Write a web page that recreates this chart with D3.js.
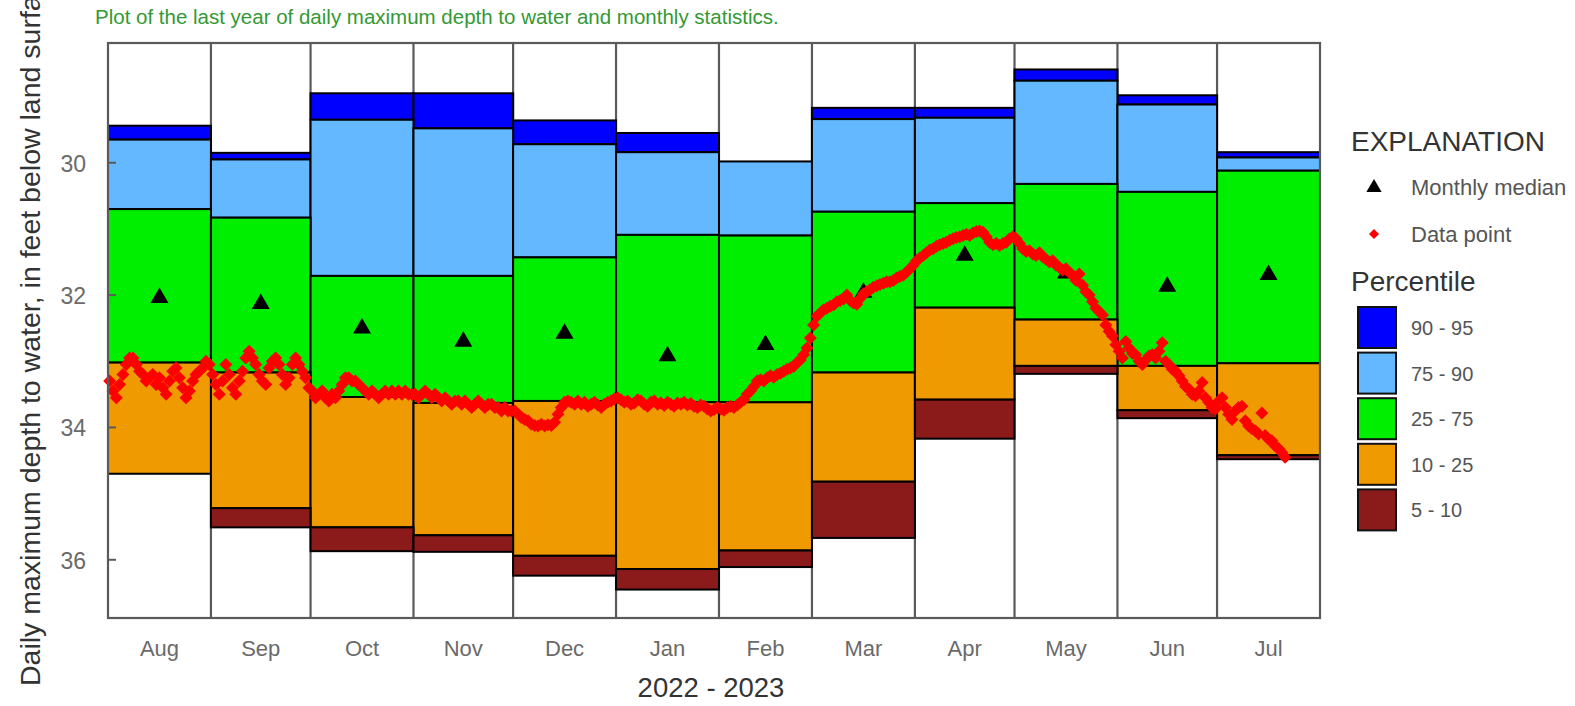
<!DOCTYPE html>
<html>
<head>
<meta charset="utf-8">
<script src="https://cdn.jsdelivr.net/npm/d3@7"></script>
<style>
  html, body { margin: 0; padding: 0; background: #fff; }
  svg { display: block; font-family: "Liberation Sans", Arial, sans-serif; }
</style>
</head>
<body>
<svg id="chart" width="1575" height="706"></svg>
<script>
// Month labels of the water year shown
const months = ["Aug", "Sep", "Oct", "Nov", "Dec", "Jan", "Feb", "Mar", "Apr", "May", "Jun", "Jul"];
const monthStarts = ["2022-08-01", "2022-09-01", "2022-10-01", "2022-11-01", "2022-12-01", "2023-01-01",
                     "2023-02-01", "2023-03-01", "2023-04-01", "2023-05-01", "2023-06-01", "2023-07-01", "2023-08-01"];

// Monthly percentiles of depth to water (feet below land surface)
const p95 = [29.44, 29.85, 28.95, 28.95, 29.36, 29.55, 29.98, 29.17, 29.17, 28.59, 28.98, 29.84];
const p90 = [29.65, 29.95, 29.35, 29.48, 29.72, 29.84, 29.98, 29.34, 29.32, 28.76, 29.12, 29.92];
const p75 = [30.70, 30.83, 31.71, 31.71, 31.43, 31.09, 31.10, 30.74, 30.61, 30.32, 30.44, 30.12];
const p25 = [33.02, 33.17, 33.54, 33.63, 33.60, 33.62, 33.62, 33.17, 32.19, 32.37, 33.07, 33.03];
const p10 = [34.70, 35.22, 35.51, 35.63, 35.94, 36.14, 35.86, 34.82, 33.58, 33.07, 33.74, 34.42];
const p05 = [34.70, 35.51, 35.87, 35.88, 36.24, 36.45, 36.11, 35.67, 34.17, 33.19, 33.86, 34.48];
const monthlyMedian = [32.03, 32.12, 32.49, 32.69, 32.57, 32.91, 32.74, 31.95, 31.39, 31.66, 31.86, 31.68];

// Daily maximum depth to water, one value per day from the first of each month
const depthAug = [33.30, 33.45, 33.55, 33.35, 33.20, 33.05, 32.95, 32.95, 33.05, 33.15, 33.20, 33.30, 33.25, 33.20, 33.35, 33.25,
                  33.40, 33.50, 33.30, 33.15, 33.10, 33.25, 33.40, 33.55, 33.45, 33.30, 33.20, 33.15, 33.10, 33.00, 33.05];
const depthSep = [33.20, 33.35, 33.50, 33.30, 33.05, 33.20, 33.40, 33.50, 33.30, 33.15, 32.95, 32.85, 32.95, 33.05, 33.20,
                  33.30, 33.35, 33.10, 33.00, 32.95, 33.05, 33.20, 33.35, 33.25, 33.05, 32.95, 33.05, 33.15, 33.25, 33.40];
const depthOct = [33.45, 33.55, 33.50, 33.45, 33.55, 33.60, 33.50, 33.55, 33.45, 33.35, 33.25, 33.25, 33.30, 33.30, 33.35, 33.40,
                  33.45, 33.50, 33.45, 33.50, 33.55, 33.50, 33.45, 33.50, 33.45, 33.50, 33.45, 33.50, 33.45, 33.50, 33.50];
const depthNov = [33.50, 33.55, 33.50, 33.45, 33.50, 33.55, 33.50, 33.55, 33.60, 33.55, 33.60, 33.65, 33.60, 33.60, 33.65,
                  33.60, 33.65, 33.70, 33.65, 33.60, 33.65, 33.70, 33.65, 33.65, 33.70, 33.70, 33.75, 33.70, 33.75, 33.75];
const depthDec = [33.75, 33.80, 33.85, 33.88, 33.90, 33.95, 33.97, 33.98, 33.95, 33.98, 33.96, 33.97, 33.92, 33.80, 33.70, 33.62,
                  33.60, 33.62, 33.65, 33.60, 33.65, 33.62, 33.68, 33.65, 33.62, 33.66, 33.70, 33.65, 33.62, 33.60, 33.57];
const depthJan = [33.55, 33.58, 33.62, 33.60, 33.65, 33.63, 33.58, 33.60, 33.65, 33.68, 33.62, 33.60, 33.65, 33.63, 33.67, 33.62,
                  33.65, 33.68, 33.63, 33.65, 33.62, 33.66, 33.64, 33.68, 33.70, 33.66, 33.68, 33.72, 33.75, 33.73, 33.70];
const depthFeb = [33.72, 33.74, 33.70, 33.68, 33.70, 33.66, 33.62, 33.58, 33.50, 33.45, 33.38, 33.30, 33.28, 33.30,
                  33.25, 33.22, 33.24, 33.20, 33.18, 33.15, 33.12, 33.10, 33.08, 33.02, 32.98, 32.90, 32.80, 32.65];
const depthMar = [32.45, 32.32, 32.27, 32.22, 32.20, 32.17, 32.15, 32.10, 32.08, 32.06, 32.00, 32.08, 32.12, 32.14, 32.05, 31.98,
                  31.95, 31.92, 31.88, 31.86, 31.84, 31.82, 31.80, 31.80, 31.78, 31.74, 31.72, 31.70, 31.65, 31.60, 31.55];
const depthApr = [31.48, 31.44, 31.40, 31.36, 31.32, 31.30, 31.26, 31.24, 31.22, 31.20, 31.17, 31.15, 31.13, 31.12, 31.10,
                  31.08, 31.10, 31.06, 31.04, 31.03, 31.05, 31.12, 31.20, 31.24, 31.22, 31.25, 31.22, 31.20, 31.15, 31.12];
const depthMay = [31.15, 31.22, 31.30, 31.34, 31.33, 31.38, 31.40, 31.36, 31.42, 31.46, 31.50, 31.48, 31.55, 31.58, 31.62, 31.60,
                  31.66, 31.70, 31.78, 31.68, 31.85, 31.95, 32.00, 32.10, 32.20, 32.25, 32.30, 32.45, 32.55, 32.62, 32.75];
const depthJun = [32.85, 32.95, 32.70, 32.80, 32.88, 32.90, 33.00, 33.05, 32.98, 32.92, 32.90, 32.95, 32.85, 32.72, 33.00,
                  33.05, 33.12, 33.15, 33.22, 33.30, 33.38, 33.42, 33.50, 33.52, 33.45, 33.32, 33.55, 33.62, 33.70, 33.72];
const depthJul = [33.60, 33.55, 33.70, 33.80, 33.88, 33.75, 33.70, 33.68, 33.90, 33.98, 34.02, 34.05, 34.10, 33.78, 34.12,
                  34.18, 34.20, 34.28, 34.32, 34.38, 34.45];

const yTicks = [30, 32, 34, 36];
const legendClasses = ["90 - 95", "75 - 90", "25 - 75", "10 - 25", "5 - 10"];

// ---- layout ----
const svg = d3.select("#chart");
const plot = { left: 108, right: 1320, top: 43, bottom: 618 };
const colors = { b95: "#0000ff", b90: "#63b8ff", b75: "#00ee00", b25: "#ee9a00", b10: "#8b1a1a" };
const axisGray = "#5a5a5a";

const parse = d3.utcParse("%Y-%m-%d");
const starts = monthStarts.map(parse);

const x = d3.scaleUtc().domain([starts[0], starts[12]]).range([plot.left, plot.right]);
const y = d3.scaleLinear().domain([28.19, 36.88]).range([plot.top, plot.bottom]);

// Daily records with dates
const monthly = [depthAug, depthSep, depthOct, depthNov, depthDec, depthJan, depthFeb, depthMar, depthApr, depthMay, depthJun, depthJul];
const daily = [];
monthly.forEach((vals, m) => {
  vals.forEach((v, i) => {
    daily.push({ date: d3.utcHour.offset(d3.utcDay.offset(starts[m], i), 12), value: v });
  });
});

// Month records
const monthRows = months.map((name, i) => ({
  name, start: starts[i], end: starts[i + 1],
  p95: p95[i], p90: p90[i], p75: p75[i], p25: p25[i], p10: p10[i], p05: p05[i], median: monthlyMedian[i]
}));

// ---- title ----
svg.append("text")
  .attr("x", 95).attr("y", 24)
  .attr("font-size", 20.5).attr("fill", "#339933")
  .text("Plot of the last year of daily maximum depth to water and monthly statistics.");

// ---- plot background and month dividers ----
const g = svg.append("g");
g.append("rect")
  .attr("x", plot.left).attr("y", plot.top)
  .attr("width", plot.right - plot.left).attr("height", plot.bottom - plot.top)
  .attr("fill", "#fff");

g.selectAll("line.divider")
  .data(starts.slice(1, 12))
  .join("line")
  .attr("class", "divider")
  .attr("x1", d => x(d)).attr("x2", d => x(d))
  .attr("y1", plot.top).attr("y2", plot.bottom)
  .attr("stroke", axisGray).attr("stroke-width", 2.2);

// ---- percentile bands ----
const bands = [
  { lo: "p90", hi: "p95", color: colors.b95 },
  { lo: "p75", hi: "p90", color: colors.b90 },
  { lo: "p25", hi: "p75", color: colors.b75 },
  { lo: "p10", hi: "p25", color: colors.b25 },
  { lo: "p05", hi: "p10", color: colors.b10 }
];
bands.forEach(b => {
  g.selectAll(null)
    .data(monthRows)
    .join("rect")
    .attr("x", d => x(d.start))
    .attr("width", d => x(d.end) - x(d.start))
    .attr("y", d => y(Math.min(d[b.lo], d[b.hi])))
    .attr("height", d => Math.abs(y(d[b.hi]) - y(d[b.lo])))
    .attr("fill", b.color)
    .attr("stroke", "#000").attr("stroke-width", 2);
});

// ---- y axis ----
const yAxis = d3.axisLeft(y).tickValues(yTicks).tickSize(0).tickPadding(0);
const ya = svg.append("g").attr("transform", `translate(${plot.left},0)`).call(yAxis);
ya.select(".domain").remove();
ya.selectAll("text")
  .attr("x", -22).attr("dy", "0.36em")
  .attr("font-size", 23).attr("fill", "#6a6a6a")
  .attr("font-family", "Liberation Sans, Arial, sans-serif");
svg.selectAll("line.ytick")
  .data(yTicks)
  .join("line")
  .attr("class", "ytick")
  .attr("x1", plot.left).attr("x2", plot.left + 8)
  .attr("y1", d => y(d)).attr("y2", d => y(d))
  .attr("stroke", axisGray).attr("stroke-width", 2);

// ---- medians ----
const tri = "M0,-9.5 L9,6 L-9,6 Z";
svg.selectAll("path.median")
  .data(monthRows)
  .join("path")
  .attr("class", "median")
  .attr("d", tri)
  .attr("transform", d => `translate(${x(new Date((+d.start + +d.end) / 2))},${y(d.median)})`)
  .attr("fill", "#000");

// ---- daily points ----
const diamond = "M0,-6.5 L6.5,0 L0,6.5 L-6.5,0 Z";
svg.selectAll("path.pt")
  .data(daily)
  .join("path")
  .attr("class", "pt")
  .attr("d", diamond)
  .attr("transform", d => `translate(${x(d.date)},${y(d.value)})`)
  .attr("fill", "#ff0000");

// ---- frame ----
svg.append("rect")
  .attr("x", plot.left).attr("y", plot.top)
  .attr("width", plot.right - plot.left).attr("height", plot.bottom - plot.top)
  .attr("fill", "none").attr("stroke", axisGray).attr("stroke-width", 2.2);

// ---- x labels ----
svg.selectAll("text.month")
  .data(monthRows)
  .join("text")
  .attr("class", "month")
  .attr("x", d => x(new Date((+d.start + +d.end) / 2)))
  .attr("y", 656)
  .attr("text-anchor", "middle")
  .attr("font-size", 22).attr("fill", "#6a6a6a")
  .text(d => d.name);

svg.append("text")
  .attr("x", 711).attr("y", 697)
  .attr("text-anchor", "middle")
  .attr("font-size", 27.5).attr("fill", "#333")
  .text("2022 - 2023");

svg.append("text")
  .attr("transform", "translate(40,686) rotate(-90)")
  .attr("font-size", 28.5).attr("fill", "#333")
  .text("Daily maximum depth to water, in feet below land surface");

// ---- legend ----
const lg = svg.append("g");
lg.append("text").attr("x", 1351).attr("y", 151).attr("font-size", 28).attr("fill", "#333").text("EXPLANATION");
lg.append("path").attr("d", tri).attr("transform", "translate(1374,187) scale(0.85)").attr("fill", "#000");
lg.append("text").attr("x", 1411).attr("y", 195).attr("font-size", 22).attr("fill", "#555").text("Monthly median");
lg.append("path").attr("d", "M0,-5 L5,0 L0,5 L-5,0 Z").attr("transform", "translate(1374,234)").attr("fill", "#ff0000");
lg.append("text").attr("x", 1411).attr("y", 242).attr("font-size", 22).attr("fill", "#555").text("Data point");
lg.append("text").attr("x", 1351).attr("y", 291).attr("font-size", 28).attr("fill", "#333").text("Percentile");

const legendColors = [colors.b95, colors.b90, colors.b75, colors.b25, colors.b10];
lg.selectAll("rect.key")
  .data(legendClasses)
  .join("rect")
  .attr("class", "key")
  .attr("x", 1358).attr("y", (d, i) => 307 + i * 45.6)
  .attr("width", 38).attr("height", 41)
  .attr("fill", (d, i) => legendColors[i])
  .attr("stroke", "#111").attr("stroke-width", 2);
lg.selectAll("text.key")
  .data(legendClasses)
  .join("text")
  .attr("class", "key")
  .attr("x", 1411).attr("y", (d, i) => 335 + i * 45.6)
  .attr("font-size", 20).attr("fill", "#555")
  .text(d => d);
</script>
</body>
</html>
